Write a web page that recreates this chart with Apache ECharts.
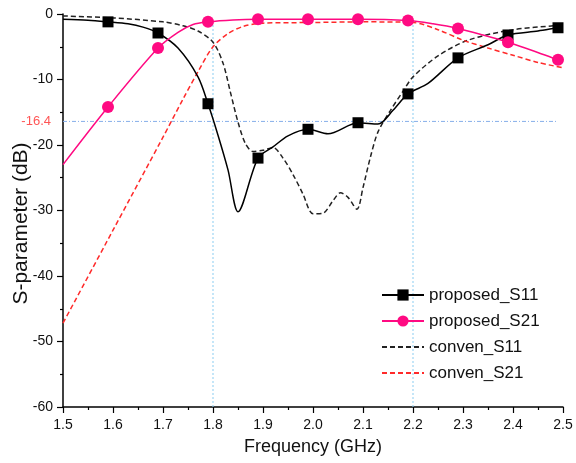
<!DOCTYPE html>
<html>
<head>
<meta charset="utf-8">
<script src="https://cdn.jsdelivr.net/npm/echarts@6/dist/echarts.min.js"></script>
<style>
html,body{margin:0;padding:0;background:#fff}
#chart{width:576px;height:463px}
</style>
</head>
<body>
<div id="chart"></div>
<script>
// proposed_S11 : solid black line, squares on marked points
var fS11p = [1.50,1.55,1.59,1.63,1.66,1.69,1.73,1.77,1.79,1.81,1.83,1.85,1.89,1.92,1.95,1.99,2.03,2.09,2.13,2.16,2.19,2.23,2.29,2.35,2.39,2.45,2.49,2.50];
var s11p  = [-0.8,-0.95,-1.2,-1.5,-2.0,-2.9,-5.2,-9.6,-13.7,-18.5,-23.8,-30.2,-22.0,-20.3,-18.6,-17.6,-18.3,-16.6,-16.8,-14.7,-12.2,-10.6,-6.7,-4.7,-3.2,-2.6,-2.1,-2.0];
var mS11p = [1.59,1.69,1.79,1.89,1.99,2.09,2.19,2.29,2.39,2.49];

// proposed_S21 : solid pink line, circles
var fS21p = [1.50,1.59,1.69,1.73,1.76,1.79,1.84,1.89,1.99,2.09,2.19,2.24,2.29,2.34,2.39,2.44,2.49,2.50];
var s21p  = [-23.0,-14.2,-5.2,-2.8,-1.6,-1.2,-0.9,-0.8,-0.8,-0.8,-1.0,-1.5,-2.2,-3.2,-4.3,-5.6,-7.0,-7.2];
var mS21p = [1.59,1.69,1.79,1.89,1.99,2.09,2.19,2.29,2.39,2.49];

// conven_S11 : dashed black
var fS11c = [1.50,1.60,1.70,1.74,1.77,1.80,1.82,1.835,1.85,1.865,1.88,1.90,1.92,1.94,1.96,1.98,2.00,2.02,2.04,2.055,2.07,2.088,2.10,2.115,2.13,2.155,2.18,2.20,2.25,2.31,2.40,2.50];
var s11c  = [-0.3,-0.6,-1.2,-1.8,-2.6,-4.3,-7.5,-12.0,-16.5,-19.8,-21.0,-20.8,-20.4,-22.0,-24.5,-27.5,-30.5,-30.4,-28.5,-27.3,-28.0,-29.8,-26.5,-21.8,-18.0,-14.7,-11.8,-9.6,-6.4,-4.0,-2.4,-1.7];

// conven_S21 : dashed red
var fS21c = [1.50,1.60,1.70,1.74,1.77,1.80,1.83,1.86,1.90,2.00,2.10,2.20,2.25,2.30,2.35,2.40,2.45,2.50];
var s21c  = [-47.2,-33.0,-18.8,-13.0,-8.8,-5.0,-3.0,-1.9,-1.4,-1.3,-1.2,-1.3,-2.4,-4.0,-5.2,-6.3,-7.4,-8.2];

// reference guides
var refLevel = -16.4;
var refSpan = [1.5, 2.49];
var refFreqs = [1.8, 2.2];
var refTop = -1.5;

function toData(f, v, marks) {
  return f.map(function (x, i) {
    var item = { value: [x, v[i]] };
    if (marks && marks.indexOf(x) < 0) item.symbol = 'none';
    return item;
  });
}

var chart = echarts.init(document.getElementById('chart'));
var font = 'Liberation Sans, Arial, sans-serif';

function guide(data, style) {
  return {
    type: 'line', silent: true, z: 1, symbol: 'none', data: data,
    lineStyle: style, itemStyle: { color: style.color }
  };
}
var hStyle = { color: '#86aeea', type: [4, 2, 1, 2], width: 1 };
var vStyle = { color: '#8ccdf2', type: [2, 2], width: 1 };

chart.setOption({
  animation: false,
  textStyle: { fontFamily: font },
  grid: { left: 63, right: 13, top: 14, bottom: 56, containLabel: false, outerBoundsMode: 'none' },
  legend: {
    orient: 'vertical',
    left: 376,
    top: 280,
    itemWidth: 42,
    itemHeight: 14,
    itemGap: 6,
    textStyle: { fontSize: 17, color: '#111', lineHeight: 20, fontFamily: font },
    data: [
      'proposed_S11',
      'proposed_S21',
      { name: 'conven_S11', itemStyle: { color: 'rgba(0,0,0,0)', borderWidth: 0 } },
      { name: 'conven_S21', itemStyle: { color: 'rgba(0,0,0,0)', borderWidth: 0 } }
    ]
  },
  xAxis: {
    type: 'value', min: 1.5, max: 2.5, interval: 0.1,
    name: 'Frequency (GHz)', nameLocation: 'middle', nameGap: 31,
    nameTextStyle: { fontSize: 18, color: '#111' },
    axisLine: { onZero: false, lineStyle: { color: '#000', width: 1.5 } },
    axisTick: { inside: false, length: 6, lineStyle: { color: '#000', width: 1.2 } },
    minorTick: { show: true, splitNumber: 2, length: 3, lineStyle: { color: '#000', width: 1.2 } },
    axisLabel: { fontSize: 14, color: '#111', margin: 11, formatter: function (v) { return v.toFixed(1); } },
    splitLine: { show: false }
  },
  yAxis: {
    type: 'value', min: -60, max: 0, interval: 10,
    name: 'S-parameter (dB)', nameLocation: 'middle', nameGap: 31, nameMoveOverlap: false,
    nameTextStyle: { fontSize: 21, color: '#111', padding: [0, 26, 0, 0] },
    axisLine: { onZero: false, lineStyle: { color: '#000', width: 1.5 } },
    axisTick: { inside: false, length: 6, lineStyle: { color: '#000', width: 1.2 } },
    minorTick: { show: true, splitNumber: 2, length: 3, lineStyle: { color: '#000', width: 1.2 } },
    axisLabel: { fontSize: 14, color: '#111', margin: 10 },
    splitLine: { show: false }
  },
  series: [
    guide([[refSpan[0], refLevel], [refSpan[1], refLevel]], hStyle),
    guide([[refFreqs[0], -60], [refFreqs[0], refTop]], vStyle),
    guide([[refFreqs[1], -60], [refFreqs[1], refTop]], vStyle),
    {
      type: 'scatter', silent: true, symbolSize: 0,
      data: [{
        value: [refSpan[0], refLevel],
        label: { show: true, position: 'left', distance: 12, formatter: String(refLevel), color: '#ff2a2a', fontSize: 13 }
      }]
    },
    {
      name: 'proposed_S11', type: 'line', smooth: 0.3, z: 4,
      symbol: 'rect', symbolSize: 11,
      data: toData(fS11p, s11p, mS11p),
      itemStyle: { color: '#000' },
      lineStyle: { color: '#000', width: 1.5 }
    },
    {
      name: 'proposed_S21', type: 'line', smooth: 0.3, z: 4,
      symbol: 'circle', symbolSize: 12,
      data: toData(fS21p, s21p, mS21p),
      itemStyle: { color: '#ff0a82' },
      lineStyle: { color: '#ff0a82', width: 1.5 }
    },
    {
      name: 'conven_S11', type: 'line', smooth: 0.3, z: 3,
      symbol: 'none',
      data: toData(fS11c, s11c),
      itemStyle: { color: '#222' },
      lineStyle: { color: '#222', width: 1.5, type: [5, 3] }
    },
    {
      name: 'conven_S21', type: 'line', smooth: 0.3, z: 3,
      symbol: 'none',
      data: toData(fS21c, s21c),
      itemStyle: { color: '#ff2a2a' },
      lineStyle: { color: '#ff2a2a', width: 1.5, type: [5, 3] }
    }
  ]
});
</script>
</body>
</html>
